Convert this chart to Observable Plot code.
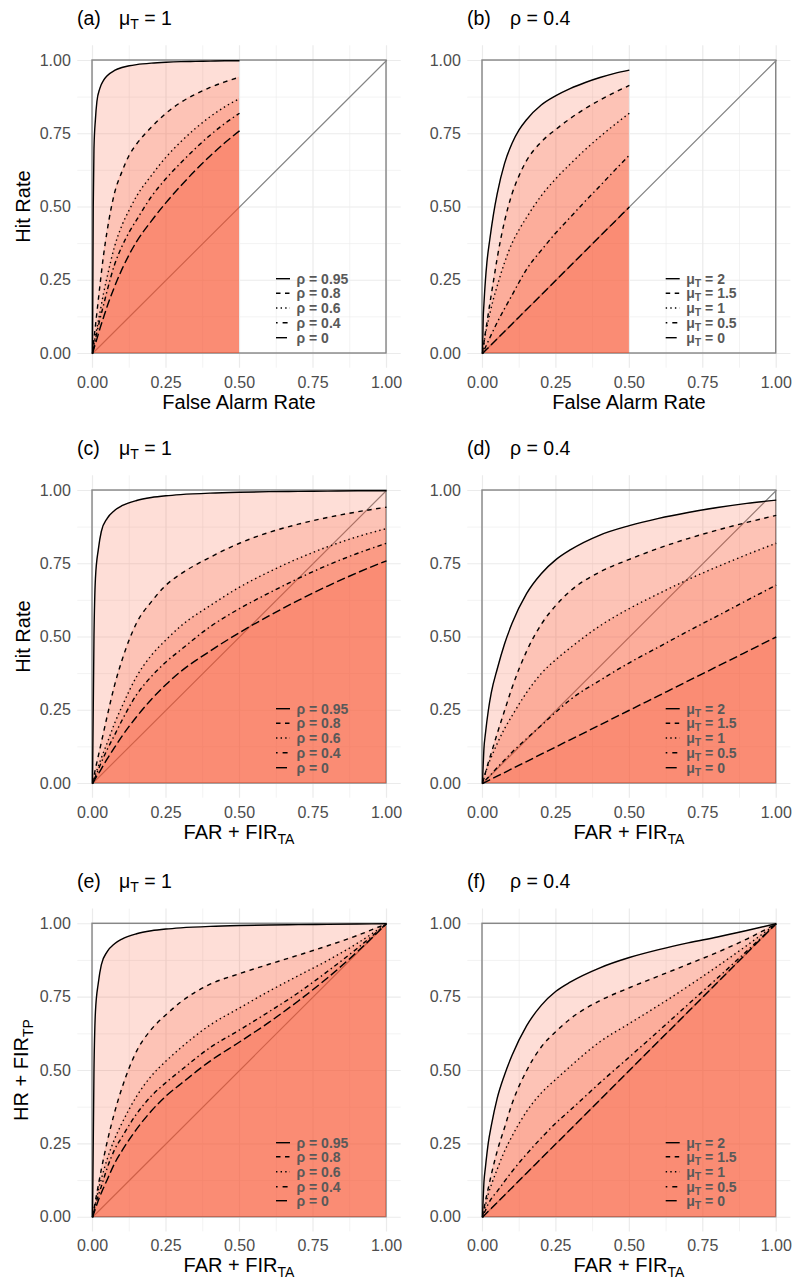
<!DOCTYPE html>
<html><head><meta charset="utf-8">
<script src="https://cdn.jsdelivr.net/npm/d3@7"></script>
<script src="https://cdn.jsdelivr.net/npm/@observablehq/plot@0.6"></script>
<style>
html,body{margin:0;padding:0;background:#fff;}
#root{position:relative;width:793px;height:1279px;overflow:hidden;background:#fff;}
</style></head><body><div id="root"></div>
<script>
// ---------- data ----------
const farGrid    = [0, 0.0025, 0.005, 0.01, 0.015, 0.025, 0.0375, 0.05, 0.075, 0.1, 0.125, 0.15, 0.2, 0.25, 0.3, 0.35, 0.4, 0.45, 0.5];
const farFirGrid = [0, 0.005, 0.01, 0.02, 0.03, 0.05, 0.075, 0.1, 0.15, 0.2, 0.25, 0.3, 0.4, 0.5, 0.6, 0.7, 0.8, 0.9, 1];

const tickValues = [0, 0.25, 0.5, 0.75, 1];
const tickLabels = ["0.00", "0.25", "0.50", "0.75", "1.00"];
const minorTickValues = [0.125, 0.375, 0.625, 0.875];

const rhoLabels = ["0.95", "0.8", "0.6", "0.4", "0"];
const muLabels  = ["2", "1.5", "1", "0.5", "0"];

// Hit rate, mu_T = 1, by rho (panels a & c)
const hrRho095 = [0, 0.5, 0.7, 0.8, 0.86, 0.905, 0.932, 0.948, 0.966, 0.976, 0.982, 0.986, 0.991, 0.994, 0.996, 0.997, 0.998, 0.999, 0.999];
const hrRho08  = [0, 0.025, 0.05, 0.095, 0.14, 0.23, 0.335, 0.42, 0.548, 0.62, 0.677, 0.715, 0.772, 0.82, 0.857, 0.885, 0.908, 0.927, 0.943];
const hrRho06  = [0, 0.016, 0.031, 0.06, 0.087, 0.138, 0.205, 0.262, 0.365, 0.437, 0.49, 0.537, 0.607, 0.67, 0.722, 0.768, 0.808, 0.842, 0.87];
const hrRho04  = [0, 0.012, 0.024, 0.048, 0.072, 0.116, 0.165, 0.215, 0.303, 0.365, 0.415, 0.456, 0.535, 0.597, 0.65, 0.7, 0.745, 0.785, 0.82];
const hrRho0   = [0, 0.008, 0.017, 0.033, 0.05, 0.084, 0.123, 0.161, 0.228, 0.287, 0.338, 0.382, 0.452, 0.515, 0.572, 0.625, 0.674, 0.719, 0.76];

// Hit rate, rho = 0.4, by mu_T (panels b & d)
const hrMu2  = [0, 0.12, 0.17, 0.25, 0.31, 0.39, 0.476, 0.545, 0.648, 0.716, 0.764, 0.798, 0.848, 0.88, 0.905, 0.925, 0.942, 0.956, 0.967];
const hrMu15 = [0, 0.018, 0.037, 0.072, 0.104, 0.17, 0.248, 0.325, 0.451, 0.543, 0.608, 0.658, 0.722, 0.765, 0.803, 0.836, 0.865, 0.891, 0.915];
const hrMu1  = [0, 0.018, 0.035, 0.066, 0.09, 0.136, 0.187, 0.23, 0.31, 0.375, 0.423, 0.464, 0.538, 0.597, 0.648, 0.696, 0.74, 0.781, 0.82];
const hrMu05 = [0, 0.005, 0.011, 0.021, 0.032, 0.054, 0.08, 0.106, 0.153, 0.198, 0.244, 0.287, 0.352, 0.412, 0.466, 0.52, 0.572, 0.625, 0.677];
const hrMu0  = [0, 0.0025, 0.005, 0.01, 0.015, 0.025, 0.0375, 0.05, 0.075, 0.1, 0.125, 0.15, 0.2, 0.25, 0.3, 0.35, 0.4, 0.45, 0.5];

// HR + FIR_TP, mu_T = 1, by rho (panel e)
const hrFirRho095 = [0, 0.5, 0.7, 0.8, 0.86, 0.905, 0.932, 0.948, 0.966, 0.976, 0.982, 0.986, 0.991, 0.994, 0.996, 0.997, 0.998, 0.999, 1];
const hrFirRho08  = [0, 0.028, 0.056, 0.11, 0.163, 0.257, 0.357, 0.44, 0.566, 0.64, 0.69, 0.733, 0.794, 0.83, 0.862, 0.893, 0.925, 0.96, 1];
const hrFirRho06  = [0, 0.024, 0.047, 0.092, 0.13, 0.198, 0.266, 0.32, 0.412, 0.481, 0.532, 0.577, 0.655, 0.713, 0.77, 0.823, 0.875, 0.933, 1];
const hrFirRho04  = [0, 0.02, 0.04, 0.075, 0.105, 0.168, 0.23, 0.273, 0.352, 0.413, 0.459, 0.5, 0.578, 0.638, 0.7, 0.765, 0.838, 0.916, 1];
const hrFirRho0   = [0, 0.014, 0.029, 0.058, 0.083, 0.128, 0.183, 0.226, 0.3, 0.362, 0.413, 0.454, 0.532, 0.597, 0.664, 0.737, 0.816, 0.904, 1];

// HR + FIR_TP, rho = 0.4, by mu_T (panel f)
const hrFirMu2  = [0, 0.12, 0.17, 0.255, 0.312, 0.405, 0.485, 0.55, 0.652, 0.722, 0.77, 0.802, 0.85, 0.885, 0.912, 0.935, 0.955, 0.977, 1];
const hrFirMu15 = [0, 0.028, 0.055, 0.1, 0.145, 0.225, 0.305, 0.385, 0.499, 0.58, 0.633, 0.677, 0.738, 0.782, 0.822, 0.862, 0.903, 0.948, 1];
const hrFirMu1  = [0, 0.02, 0.041, 0.08, 0.11, 0.163, 0.225, 0.275, 0.36, 0.423, 0.47, 0.515, 0.598, 0.66, 0.722, 0.787, 0.855, 0.926, 1];
const hrFirMu05 = [0, 0.012, 0.023, 0.046, 0.063, 0.088, 0.122, 0.155, 0.215, 0.27, 0.321, 0.366, 0.458, 0.546, 0.635, 0.725, 0.815, 0.907, 1];
const hrFirMu0  = [0, 0.005, 0.01, 0.02, 0.03, 0.05, 0.075, 0.1, 0.15, 0.2, 0.25, 0.3, 0.4, 0.5, 0.6, 0.7, 0.8, 0.9, 1];

const unitSquare = [{x1: 0, x2: 1, y1: 0, y2: 1}];
const diagonal = [{x: 0, y: 0}, {x: 1, y: 1}];

// ---------- styling ----------
const FONT = '"Liberation Sans", Arial, Helvetica, sans-serif';
const fillColor = "#fa5028";
const fillOpacity = 0.19;
const gridColor = "#ebebeb";
const refColor = "#858585";
const dashes = [null, "4.5,4.5", "1.4,3.2", "1.4,3.2,4.5,3.2", "8.5,3.5"];
const legendDashes = [null, "4.5,4.5", "1.4,3.2", "1.6,5,5,10", "11,10"];

const root = document.getElementById("root");

function addMu(sel, value, subSize, dy) {
  sel.append("tspan").text("μ");
  sel.append("tspan").attr("font-size", subSize).attr("dy", dy).text("T");
  sel.append("tspan").attr("dy", -dy).text(" = " + value);
}

function makePanel(cfg) {
  const left = cfg.col === "L";
  const row3 = cfg.row === 3;
  const width = left ? 402 : 397;
  const height = row3 ? 419 : 430;
  const mLeft = left ? 77.3 : 71.3;
  const mRight = left ? 1.3 : 2.6;
  const mTop = row3 ? 48.6 : 45.35;
  const mBottom = row3 ? 47.6 : 62.35;

  const rows = [];
  cfg.ys.forEach((arr, i) => arr.forEach((v, j) => rows.push({series: i, x: cfg.xs[j], y: v})));

  const marks = [
    Plot.ruleX(minorTickValues, {stroke: gridColor, strokeWidth: 0.6}),
    Plot.ruleY(minorTickValues, {stroke: gridColor, strokeWidth: 0.6}),
    Plot.ruleX(tickValues, {stroke: gridColor, strokeWidth: 1.2}),
    Plot.ruleY(tickValues, {stroke: gridColor, strokeWidth: 1.2}),
    Plot.line(diagonal, {x: "x", y: "y", stroke: refColor, strokeWidth: 1.2}),
    Plot.rect(unitSquare, {x1: "x1", x2: "x2", y1: "y1", y2: "y2", fill: "none", stroke: refColor, strokeWidth: 1.4}),
    Plot.areaY(rows, {x: "x", y1: 0, y2: "y", z: "series", fill: fillColor, fillOpacity, curve: "monotone-x"})
  ];
  cfg.ys.forEach((arr, i) => {
    marks.push(Plot.line(rows, {
      filter: d => d.series === i, x: "x", y: "y", stroke: "black", strokeWidth: 1.4,
      strokeDasharray: dashes[i] || undefined, strokeLinecap: "butt", curve: "monotone-x"
    }));
  });
  marks.push(Plot.axisX(tickValues, {tickSize: 0, tickPadding: 8, fontSize: 16, color: "#4d4d4d",
    tickFormat: d => tickLabels[tickValues.indexOf(d)], label: null}));
  marks.push(Plot.axisY(tickValues, {tickSize: 0, tickPadding: 7, fontSize: 16, color: "#4d4d4d",
    tickFormat: d => tickLabels[tickValues.indexOf(d)], label: null}));

  const svgNode = Plot.plot({
    width, height,
    marginLeft: mLeft, marginRight: mRight, marginTop: mTop, marginBottom: mBottom,
    x: {domain: [-0.05, 1.05]},
    y: {domain: [-0.05, 1.05]},
    style: {position: "absolute", left: cfg.left + "px", top: cfg.top + "px",
      background: "transparent", overflow: "visible", fontFamily: FONT, maxWidth: "none"},
    marks
  });
  root.appendChild(svgNode);
  const svg = d3.select(svgNode);

  // panel title
  const tBase = row3 ? 28 : 24.5;
  const tg = svg.append("g").attr("font-family", FONT).attr("font-size", 19.5).attr("fill", "black").attr("text-anchor", "start");
  tg.append("text").attr("x", left ? 77 : 71).attr("y", tBase).text(cfg.tag);
  const t2 = tg.append("text").attr("x", left ? 119 : 114).attr("y", tBase);
  if (cfg.kind === "rho") addMu(t2, "1", 14, 4);
  else t2.text("ρ = 0.4");

  // x axis title
  const xg = svg.append("g").attr("font-family", FONT).attr("font-size", 20).attr("fill", "black");
  const xt = xg.append("text").attr("x", left ? 239 : 233).attr("y", row3 ? 412 : 409).attr("text-anchor", "middle");
  if (cfg.xTitle === "far") xt.text("False Alarm Rate");
  else {
    xt.append("tspan").text("FAR + FIR");
    xt.append("tspan").attr("font-size", 14).attr("dy", 4.5).text("TA");
  }

  // y axis title
  if (left) {
    const yt = xg.append("text")
      .attr("transform", `translate(${row3 ? 27.5 : 30},${row3 ? 210 : 206.5}) rotate(-90)`)
      .attr("text-anchor", "middle");
    if (cfg.yTitle === "hit") yt.text("Hit Rate");
    else {
      yt.append("tspan").text("HR + FIR");
      yt.append("tspan").attr("font-size", 14).attr("dy", 5).text("TP");
    }
  }

  // legend
  const legY = row3 ? [282.7, 296.7, 311.7, 326.7, 340.7] : [278.7, 293.3, 308, 322.7, 337.7];
  const kx1 = left ? 276 : 269.7, kx2 = kx1 + 14, lx = kx1 + 20.5;
  const lg = svg.append("g").attr("font-family", FONT).attr("font-size", 14).attr("font-weight", "bold")
    .attr("fill", "#595959").attr("text-anchor", "start");
  const labels = cfg.kind === "rho" ? rhoLabels : muLabels;
  labels.forEach((lab, i) => {
    const ln = lg.append("line").attr("x1", kx1).attr("x2", kx2).attr("y1", legY[i]).attr("y2", legY[i])
      .attr("stroke", "black").attr("stroke-width", 1.4);
    if (legendDashes[i]) ln.attr("stroke-dasharray", legendDashes[i]);
    const t = lg.append("text").attr("x", lx).attr("y", legY[i]).attr("dy", "0.36em");
    if (cfg.kind === "rho") t.text("ρ = " + lab);
    else addMu(t, lab, 10.5, 3);
  });
}

const rhoHR = [hrRho095, hrRho08, hrRho06, hrRho04, hrRho0];
const muHR = [hrMu2, hrMu15, hrMu1, hrMu05, hrMu0];
const rhoHRFir = [hrFirRho095, hrFirRho08, hrFirRho06, hrFirRho04, hrFirRho0];
const muHRFir = [hrFirMu2, hrFirMu15, hrFirMu1, hrFirMu05, hrFirMu0];

makePanel({tag: "(a)", col: "L", row: 1, left: 0, top: 0, xs: farGrid, ys: rhoHR, kind: "rho", xTitle: "far", yTitle: "hit"});
makePanel({tag: "(b)", col: "R", row: 1, left: 396, top: 0, xs: farGrid, ys: muHR, kind: "mu", xTitle: "far"});
makePanel({tag: "(c)", col: "L", row: 2, left: 0, top: 430, xs: farFirGrid, ys: rhoHR, kind: "rho", xTitle: "farfir", yTitle: "hit"});
makePanel({tag: "(d)", col: "R", row: 2, left: 396, top: 430, xs: farFirGrid, ys: muHR, kind: "mu", xTitle: "farfir"});
makePanel({tag: "(e)", col: "L", row: 3, left: 0, top: 860, xs: farFirGrid, ys: rhoHRFir, kind: "rho", xTitle: "farfir", yTitle: "hrfir"});
makePanel({tag: "(f)", col: "R", row: 3, left: 396, top: 860, xs: farFirGrid, ys: muHRFir, kind: "mu", xTitle: "farfir"});
</script></body></html>
